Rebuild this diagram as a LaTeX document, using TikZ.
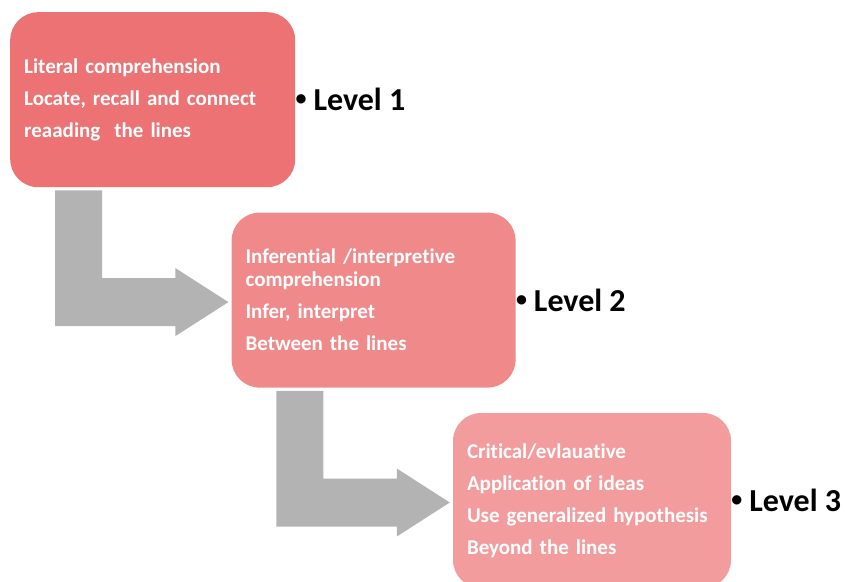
\documentclass[tikz,border=0pt]{standalone}
\usepackage{fontspec}
\setmainfont{Carlito}[Ligatures=NoCommon]
\usetikzlibrary{calc,positioning}
\definecolor{levelA}{HTML}{EC7273}
\definecolor{levelB}{HTML}{F08A8A}
\definecolor{levelC}{HTML}{F29C9D}
\definecolor{arrowgray}{HTML}{B3B3B3}
\newcommand\lvlbullet{\raisebox{5pt}{\fontsize{22}{22}\selectfont\textbullet}\hspace{7pt}}

\begin{document}
\begin{tikzpicture}[x=1pt,y=-1pt,
  levelbox/.style={rounded corners=28pt,inner xsep=14pt,inner ysep=0pt,minimum height=175pt,
    align=left,text=white,font=\fontsize{21}{23}\selectfont\bfseries},
  levellabel/.style={inner sep=0pt,font=\fontsize{32}{38}\selectfont\bfseries}]
\useasboundingbox (0,0) rectangle (848,581);
\clip (0,0) rectangle (848,581);
\node[levelbox,fill=levelA,text width=257pt,anchor=north west] (box1) at (10,12)
  {Literal comprehension\\[9pt]Locate, recall and connect\\[9pt]reaading\ \ the lines};
\node[levelbox,fill=levelB,text width=256pt,below right=25pt and -64pt of box1] (box2)
  {Inferential /interpretive\\comprehension\\[9pt]Infer, interpret\\[9pt]Between the lines};
\node[levelbox,fill=levelC,text width=250pt,below right=25pt and -63pt of box2] (box3)
  {Critical/evlauative\\[9pt]Application of ideas\\[9pt]Use generalized hypothesis\\[9pt]Beyond the lines};
\foreach \a/\b in {box1/box2,box2/box3}
  \fill[arrowgray] ($(\b.west)+(-3,2)$) -- ++(-53,-34) -- ++(0,10)
    -| ($(\a.south west)+(92,3)$) -- ++(-47,0)
    |- ($(\b.west)+(-56,26)$) -- ++(0,10) -- cycle;
\node[levellabel,right=0pt of box1.east] (lvl1) {\lvlbullet Level 1};
\node[levellabel,right=0pt of box2.east] (lvl2) {\lvlbullet Level 2};
\node[levellabel,right=0pt of box3.east] (lvl3) {\lvlbullet Level 3};
\end{tikzpicture}
\end{document}
